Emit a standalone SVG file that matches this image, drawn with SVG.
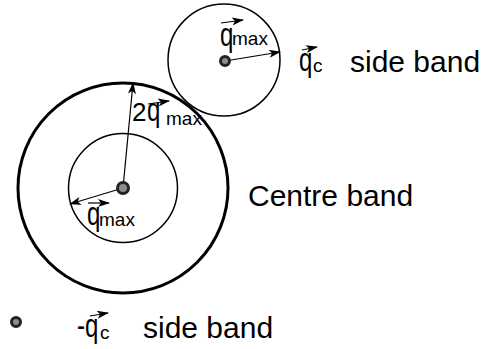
<svg xmlns="http://www.w3.org/2000/svg" width="483" height="349" viewBox="0 0 483 349">
<style>
.c{fill:none;stroke:#000}
.a{fill:none;stroke:#000;stroke-width:1.2;marker-end:url(#ah)}
.t{font-family:"Liberation Sans",Arial,sans-serif;fill:#000}
.q{font-family:"Liberation Sans",Arial,sans-serif;fill:#000;font-size:30px}
.s{font-family:"Liberation Sans",Arial,sans-serif;fill:#000;font-size:19px}
.dot{fill:#8c8c8c;stroke:#222;stroke-width:3}
</style>
<defs>
<marker id="ah" viewBox="0 0 12 8" refX="11" refY="4" markerWidth="13" markerHeight="8" markerUnits="userSpaceOnUse" orient="auto">
<path d="M0,0 L12,4 L0,8 L3,4 z" fill="#000"/>
</marker>
</defs>
<g id="centre-band">
<circle class="c" cx="123" cy="188" r="105" stroke-width="3"/>
<circle class="c" cx="123" cy="188" r="54.5" stroke-width="1.5"/>
</g>
<g id="side-band-upper">
<circle class="c" cx="224" cy="60" r="56" stroke-width="1.5"/>
</g>
<g id="connectors">
<line class="a" x1="123" y1="188" x2="133" y2="83"/>
<line class="a" x1="123" y1="188" x2="70" y2="204"/>
<line class="a" x1="225" y1="61" x2="280" y2="52"/>
<line class="a" x1="221" y1="23" x2="243" y2="20"/>
<line class="a" x1="88" y1="203" x2="109" y2="203"/>
<line class="a" x1="148" y1="104" x2="169" y2="101"/>
<line class="a" x1="302" y1="50" x2="317" y2="47"/>
<line class="a" x1="90" y1="316" x2="108" y2="313"/>
</g>
<g id="dots">
<circle class="dot" cx="123" cy="188" r="5.5" stroke-width="3.5"/>
<circle class="dot" cx="225" cy="61" r="4.5"/>
<circle class="dot" cx="16" cy="322" r="4.5"/>
</g>
<g id="labels">
<text class="q" transform="translate(220,46) scale(0.8,1.1)">q</text><text class="s" x="232" y="45">max</text>
<text class="q" transform="translate(299,71) scale(0.8,1.1)">q</text><text class="s" x="313" y="72">c</text>
<text class="t" x="350" y="72" font-size="30">side band</text>
<text class="t" x="132" y="121" font-size="26">2</text><text class="q" transform="translate(147,121) scale(0.8,1.1)">q</text><text class="s" x="166" y="125">max</text>
<text class="q" transform="translate(87,225) scale(0.8,1.1)">q</text><text class="s" x="99" y="226">max</text>
<text class="t" x="248" y="206" font-size="30">Centre band</text>
<text class="q" transform="translate(77,337) scale(0.8,1.1)">-</text><text class="q" transform="translate(85,337) scale(0.8,1.1)">q</text><text class="s" x="100" y="339">c</text>
<text class="t" x="143" y="338" font-size="30">side band</text>
</g>
</svg>
